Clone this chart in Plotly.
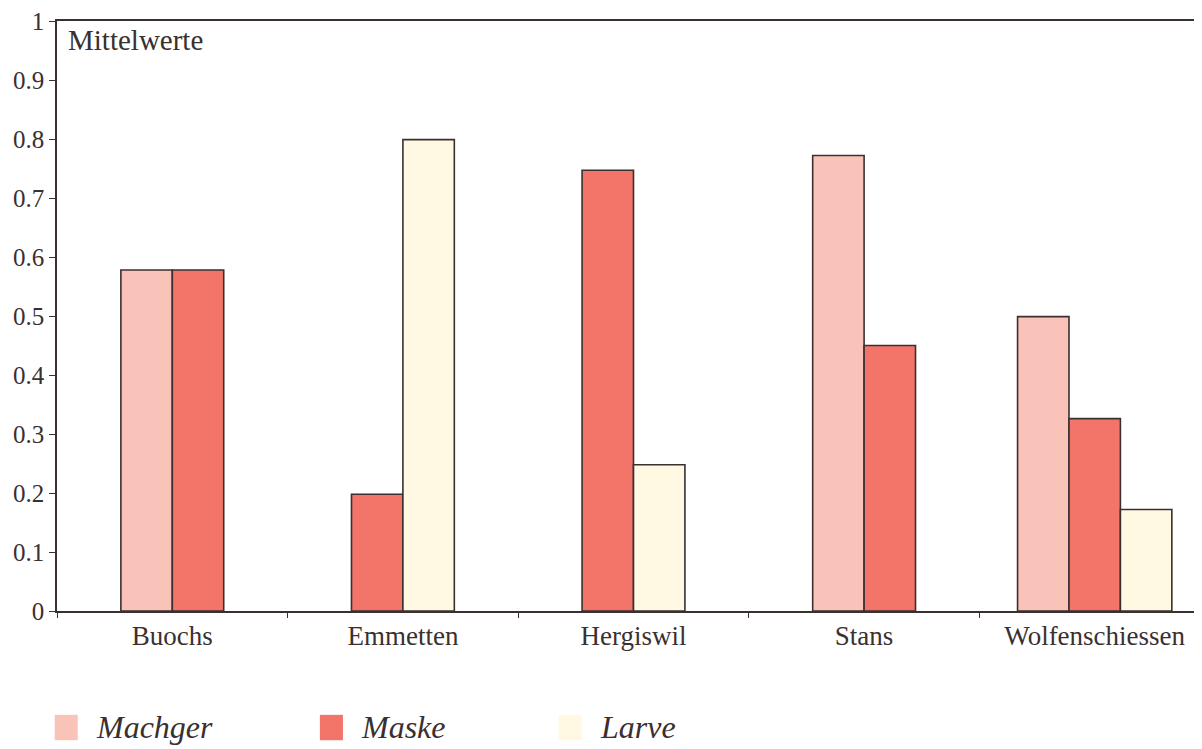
import plotly.graph_objects as go

categories = ["Buochs", "Emmetten", "Hergiswil", "Stans", "Wolfenschiessen"]
series_names = ["Machger", "Maske", "Larve"]
machger = [0.578, None, None, 0.772, 0.499]
maske = [0.578, 0.198, 0.747, 0.450, 0.326]
larve = [None, 0.799, 0.248, None, 0.172]
series_values = [machger, maske, larve]
colors = ["#F9C3B9", "#F37468", "#FFF8E2"]
y_tick_vals = [0, 0.1, 0.2, 0.3, 0.4, 0.5, 0.6, 0.7, 0.8, 0.9, 1]
y_tick_text = ["0", "0.1", "0.2", "0.3", "0.4", "0.5", "0.6", "0.7", "0.8", "0.9", "1"]
y_label = "Mittelwerte"

BAR_W = 0.223
FONT = "Liberation Serif"
INK = "#3a3030"

fig = go.Figure()

# offsets: present bars in each category are centred on the category
offsets = [[None] * len(categories) for _ in series_values]
for ci in range(len(categories)):
    present = [si for si, s in enumerate(series_values) if s[ci] is not None]
    k = len(present)
    for j, si in enumerate(present):
        offsets[si][ci] = -k * BAR_W / 2 + j * BAR_W

for si, name in enumerate(series_names):
    vals = series_values[si]
    offs = [o if o is not None else 0 for o in offsets[si]]
    fig.add_trace(go.Bar(
        x=categories, y=vals, name=name,
        width=BAR_W, offset=offs,
        marker=dict(color=colors[si], line=dict(color=INK, width=1.6)),
        showlegend=False,
    ))

# custom legend (large squares, italic labels)
leg_x = [-0.002, 0.228, 0.435]
for si, name in enumerate(series_names):
    x0 = leg_x[si]
    fig.add_shape(type="rect", xref="paper", yref="paper",
                  x0=x0, x1=x0 + 0.020, y0=-0.219, y1=-0.176,
                  fillcolor=colors[si], line=dict(width=0))
    fig.add_annotation(xref="paper", yref="paper", x=x0 + 0.034, y=-0.197,
                       text=f"<i>{name}</i>", showarrow=False, xanchor="left",
                       yanchor="middle",
                       font=dict(family=FONT, size=32, color=INK))

fig.add_annotation(xref="paper", yref="paper", x=0.008, y=0.998,
                   text=y_label, showarrow=False, xanchor="left", yanchor="top",
                   font=dict(family=FONT, size=29, color=INK))

fig.update_layout(
    width=1202, height=741,
    margin=dict(l=49, r=0, t=13, b=138, autoexpand=False),
    paper_bgcolor="white", plot_bgcolor="white",
    barmode="overlay",
    font=dict(family=FONT, size=24, color=INK),
    xaxis=dict(showline=True, linecolor=INK, linewidth=1.6, mirror=True,
               ticks="outside", tickson="boundaries", ticklen=5, tickcolor=INK,
               showgrid=False, tickfont=dict(size=27), ticklabelstandoff=0,
               automargin=False),
    yaxis=dict(range=[0, 1], showline=True, linecolor=INK, linewidth=1.6,
               ticks="outside", ticklen=6, tickcolor=INK, showgrid=False,
               zeroline=False, tickvals=y_tick_vals, ticktext=y_tick_text,
               tickfont=dict(size=25), ticklabeloverflow="allow",
               automargin=False),
)

fig.write_html("out.html")
